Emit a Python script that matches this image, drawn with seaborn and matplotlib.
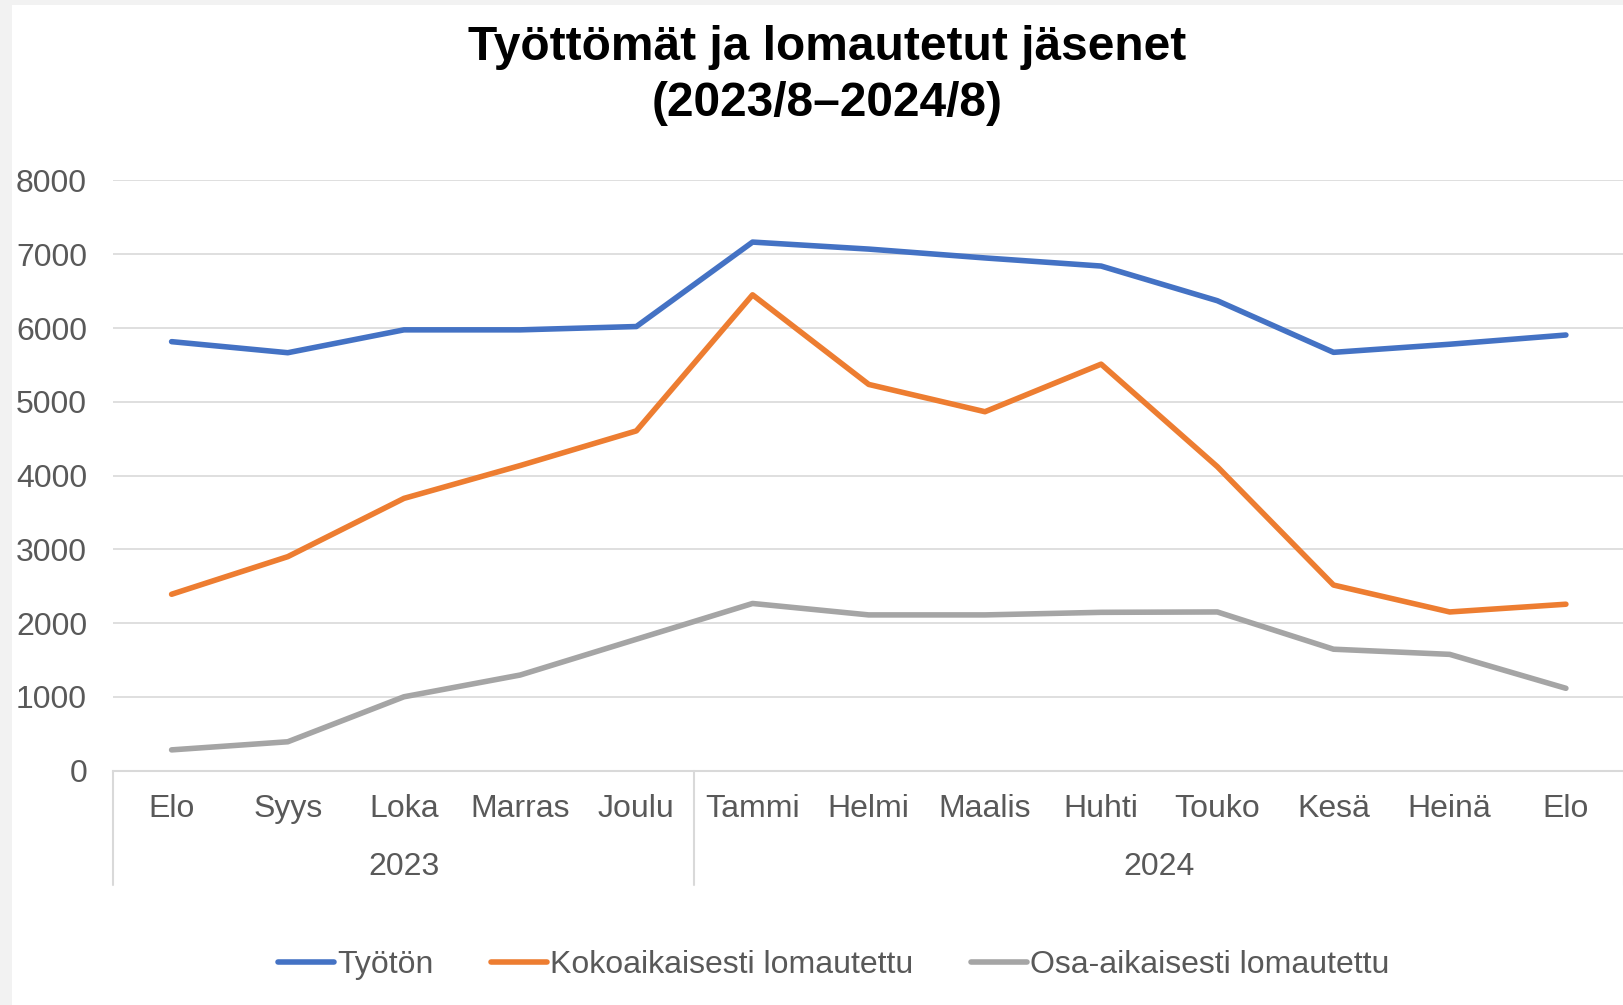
import numpy as np
import matplotlib as mpl
from matplotlib import pyplot as plt
import seaborn as sns
import pandas as pd

kuukaudet = ['Elo', 'Syys', 'Loka', 'Marras', 'Joulu', 'Tammi', 'Helmi',
             'Maalis', 'Huhti', 'Touko', 'Kesä', 'Heinä', 'Elo']
vuodet = ['2023'] * 5 + ['2024'] * 8
tyoton = [5815, 5665, 5975, 5975, 6020, 7165, 7070, 6950, 6840, 6370, 5670, 5780, 5905]
kokoaikaisesti = [2390, 2900, 3690, 4135, 4605, 6450, 5235, 4865, 5510, 4120, 2515, 2150, 2255]
osa_aikaisesti = [280, 390, 1000, 1295, 1780, 2265, 2110, 2110, 2145, 2150, 1645, 1575, 1115]
sarjat = ['Työtön', 'Kokoaikaisesti lomautettu', 'Osa-aikaisesti lomautettu']
varit = ['#4472C4', '#ED7D31', '#A5A5A5']

df = pd.concat([
    pd.DataFrame({'kk': range(len(kuukaudet)), 'arvo': arvot, 'sarja': nimi})
    for nimi, arvot in zip(sarjat, [tyoton, kokoaikaisesti, osa_aikaisesti])
], ignore_index=True)

sns.set_theme(style='white')
plt.rcParams['font.family'] = ['Liberation Sans', 'DejaVu Sans']
teksti = '#595959'
ruudukko = '#d9d9d9'

fig = plt.figure(figsize=(16.24, 10.05), dpi=100, facecolor='#f2f2f2')
fig.patches.append(mpl.patches.Rectangle((12 / 1624, 0), 1, 1 - 5 / 1005,
                                         transform=fig.transFigure, facecolor='white',
                                         edgecolor='none', zorder=-10))
ax = fig.add_axes([113.5 / 1624, 0.2333, 1 - 113.5 / 1624, 0.5871])
ax.set_facecolor('none')

sns.lineplot(data=df, x='kk', y='arvo', hue='sarja', hue_order=sarjat,
             palette=dict(zip(sarjat, varit)), linewidth=4,
             solid_capstyle='round', ax=ax)

ax.set_xlim(-0.5, len(kuukaudet) - 0.5)
ax.set_ylim(0, 8000)
ax.set_yticks(range(0, 8001, 1000))
ax.set_xticks(range(len(kuukaudet)))
ax.set_xticklabels(kuukaudet)
ax.set_xlabel('')
ax.set_ylabel('')
ax.tick_params(axis='y', length=0, pad=19, labelsize=23, labelcolor=teksti)
ax.tick_params(axis='x', length=0, pad=17, labelsize=23, labelcolor=teksti)
ax.yaxis.grid(True, color=ruudukko, linewidth=1.2)
ax.set_axisbelow(True)
for s in ['top', 'right', 'left']:
    ax.spines[s].set_visible(False)
ax.spines['bottom'].set_color(ruudukko)
ax.spines['bottom'].set_linewidth(1.5)

# vuosiryhmät x-akselin alle
trans = mpl.transforms.blended_transform_factory(ax.transData, ax.transAxes)
idx = np.arange(len(vuodet))
rajat = []
for vuosi in dict.fromkeys(vuodet):
    pos = idx[np.array(vuodet) == vuosi]
    ax.text(pos.mean(), -0.1771, vuosi, transform=trans, ha='center', va='baseline',
            fontsize=23, color=teksti)
    rajat += [pos.min() - 0.5, pos.max() + 0.5]
for r in sorted(set(rajat)):
    ax.plot([r, r], [0, -0.194], transform=trans, color=ruudukko, linewidth=1.5,
            clip_on=False)

fig.text(0.5096, 1 - 60 / 1005, 'Työttömät ja lomautetut jäsenet', ha='center',
         va='baseline', fontsize=34.5, fontweight='bold', color='black')
fig.text(0.5096, 1 - 116 / 1005, '(2023/8–2024/8)', ha='center',
         va='baseline', fontsize=34.5, fontweight='bold', color='black')

sns.move_legend(ax, loc='center', bbox_to_anchor=(0.5135, 0.0398),
                bbox_transform=fig.transFigure, ncol=3, frameon=False, title=None,
                fontsize=23, handlelength=1.75, handletextpad=0.1, columnspacing=1.8,
                labelcolor=teksti)

fig.savefig('out.png', dpi=100, facecolor=fig.get_facecolor())
